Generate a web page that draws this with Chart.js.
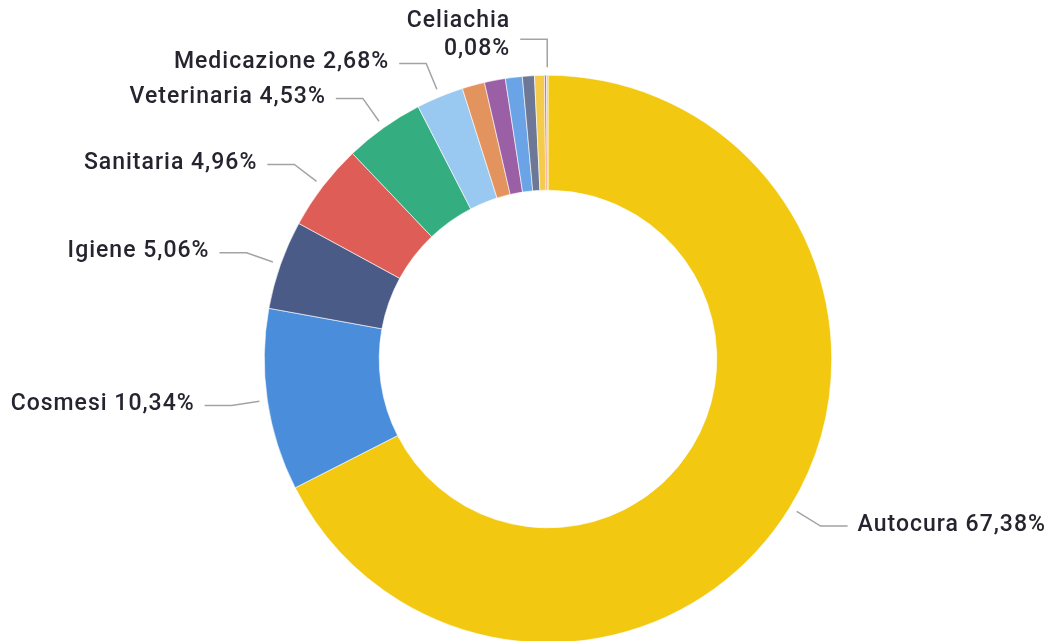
<!DOCTYPE html>
<html>
<head>
<meta charset="utf-8">
<script src="https://cdn.jsdelivr.net/npm/chart.js@4.4.1/dist/chart.umd.min.js"></script>
<style>
  html, body { margin: 0; padding: 0; background: #ffffff; overflow: hidden; }
  #wrap { position: relative; width: 1053px; height: 645px; }
</style>
</head>
<body>
<div id="wrap"><canvas id="c"></canvas></div>
<script>
// ---- data ----
const categories = ['Autocura', 'Cosmesi', 'Igiene', 'Sanitaria', 'Veterinaria', 'Medicazione',
                    '', '', '', '', '', '', 'Celiachia'];
const shares = [67.38, 10.34, 5.06, 4.96, 4.53, 2.68, 1.28, 1.19, 0.96, 0.68, 0.56, 0.12, 0.08];
const sliceColors = ['#F2C811', '#4A8EDB', '#4B5B87', '#DE5E57', '#34AE80', '#99C9F0',
                     '#E3935E', '#9B5FA6', '#6AA3E6', '#6C7896', '#F4CB4A', '#E36A6A', '#9FD3D6'];
const stackedLabels = ['Celiachia'];

const fmtPct = v => v.toFixed(2).replace('.', ',') + '%';

const leaderLabels = {
  id: 'leaderLabels',
  afterDatasetsDraw(chart, args, opts) {
    const ctx = chart.ctx;
    const meta = chart.getDatasetMeta(0);
    ctx.save();
    ctx.font = opts.font;
    if ('letterSpacing' in ctx) ctx.letterSpacing = opts.letterSpacing;
    ctx.textBaseline = 'middle';
    meta.data.forEach((arc, i) => {
      const name = chart.data.labels[i];
      if (!name) return;
      const p = arc.getProps(['x', 'y', 'startAngle', 'endAngle', 'outerRadius'], true);
      const mid = (p.startAngle + p.endAngle) / 2;
      const c = Math.cos(mid), s = Math.sin(mid);
      const r1 = p.outerRadius + opts.gap;
      const r2 = p.outerRadius + opts.elbow;
      const ax = p.x + c * r1, ay = p.y + s * r1;
      const ex = p.x + c * r2, ey = p.y + s * r2;
      const dir = c >= 0 ? 1 : -1;
      const hx = ex + dir * opts.horiz;
      ctx.strokeStyle = opts.lineColor;
      ctx.lineWidth = opts.lineWidth;
      ctx.beginPath();
      ctx.moveTo(ax, ay);
      ctx.lineTo(ex, ey);
      ctx.lineTo(hx, ey);
      ctx.stroke();
      const tx = hx + dir * opts.textGap;
      ctx.fillStyle = opts.color;
      ctx.textAlign = dir > 0 ? 'left' : 'right';
      const val = fmtPct(chart.data.datasets[0].data[i]);
      if (stackedLabels.includes(name)) {
        ctx.fillText(val, tx, ey + 10);
        ctx.fillText(name, tx, ey - 18);
      } else {
        ctx.fillText(name + ' ' + val, tx, ey - 1);
      }
    });
    ctx.restore();
  }
};

new Chart(document.getElementById('c'), {
  type: 'doughnut',
  data: {
    labels: categories,
    datasets: [{
      data: shares,
      backgroundColor: sliceColors,
      borderColor: '#ffffff',
      borderWidth: 0.6,
      hoverOffset: 0,
      offset: 0
    }]
  },
  options: {
    responsive: true,
    maintainAspectRatio: false,
    animation: false,
    events: [],
    cutout: '59.5%',
    rotation: 0,
    layout: { padding: { left: 264, right: 221, top: 75, bottom: 2 } },
    plugins: {
      legend: { display: false },
      tooltip: { enabled: false },
      leaderLabels: {
        font: '500 23px Roboto, "DejaVu Sans", sans-serif',
        letterSpacing: '1px',
        color: '#26252f',
        lineColor: '#a3a3a3',
        lineWidth: 1.5,
        gap: 8,
        elbow: 36,
        horiz: 27,
        textGap: 10
      }
    }
  },
  plugins: [leaderLabels]
});
</script>
</body>
</html>
